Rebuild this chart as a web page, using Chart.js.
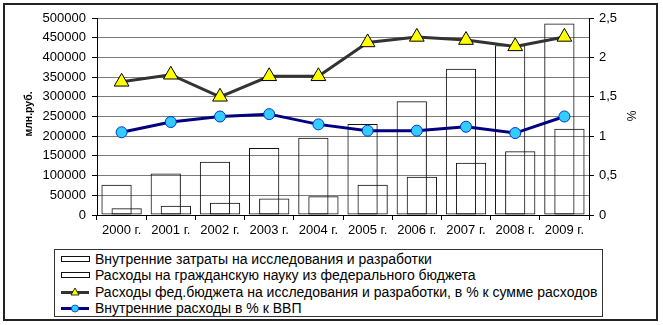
<!DOCTYPE html>
<html>
<head>
<meta charset="utf-8">
<script src="https://cdn.jsdelivr.net/npm/chart.js@4/dist/chart.umd.min.js"></script>
<style>
  body { margin: 0; background: #fff; font-family: "Liberation Sans", Arial, sans-serif; }
  #wrap { position: relative; width: 663px; height: 325px; overflow: hidden; }
  #frame { position: absolute; left: 3px; top: 3px; width: 651px; height: 314px; border: 2px solid #222; }
  #box { position: absolute; left: 0; top: 0; width: 663px; height: 250px; }
  #legend { position: absolute; left: 54px; top: 249px; width: 547px; height: 66px; border: 1px solid #333; background: #fff; }
  .item { position: absolute; left: 6px; height: 16px; line-height: 16px; font-size: 14px; color: #000; white-space: nowrap; }
  .item svg { position: absolute; left: 0; top: 0; }
  .item span { position: absolute; left: 34px; top: 0; }
  .axis-title { position: absolute; width: 80px; height: 14px; line-height: 14px; text-align: center;
                color: #000; transform: rotate(-90deg); white-space: nowrap; }
  #titleLeft { left: -12px; top: 107px; font-size: 10.5px; font-weight: bold; }
  #titleRight { left: 592px; top: 109px; font-size: 12px; }
</style>
</head>
<body>
<div id="wrap">
  <div id="frame"></div>
  <div id="box"><canvas id="chart"></canvas></div>
  <div class="axis-title" id="titleLeft">млн.руб.</div>
  <div class="axis-title" id="titleRight">%</div>
  <div id="legend"></div>
</div>
<script>
// Данные по годам
const years = ['2000 г.', '2001 г.', '2002 г.', '2003 г.', '2004 г.', '2005 г.', '2006 г.', '2007 г.', '2008 г.', '2009 г.'];
const rdSpending = [76697, 105261, 135000, 169862, 196040, 230785, 288805, 371080, 431073, 485834];
const civilScience = [17396, 23688, 31056, 41576, 47479, 76909, 97363, 132703, 162116, 219057];
const budgetShare = [1.69, 1.78, 1.5, 1.76, 1.76, 2.19, 2.26, 2.22, 2.14, 2.26];
const gdpShare = [1.05, 1.18, 1.25, 1.28, 1.15, 1.07, 1.07, 1.12, 1.04, 1.25];
const seriesNames = [
    'Внутренние затраты на исследования и разработки',
    'Расходы на гражданскую науку из федерального бюджета',
    'Расходы фед.бюджета на исследования и разработки, в % к сумме расходов',
    'Внутренние расходы в % к ВВП'
];

const tickFont = { family: '"Liberation Sans", Arial, sans-serif', size: 13 };

const ctx = document.getElementById('chart').getContext('2d');
new Chart(ctx, {
    data: {
        labels: years,
        datasets: [
            {
                type: 'line', label: seriesNames[2], data: budgetShare, yAxisID: 'y1', order: 1,
                borderColor: '#333333', borderWidth: 3,
                pointStyle: 'triangle', pointRadius: 8.5,
                pointBackgroundColor: '#ffff00', pointBorderColor: '#000', pointBorderWidth: 1
            },
            {
                type: 'line', label: seriesNames[3], data: gdpShare, yAxisID: 'y1', order: 1,
                borderColor: '#000080', borderWidth: 3,
                pointStyle: 'circle', pointRadius: 5.5,
                pointBackgroundColor: '#33ccff', pointBorderColor: '#0033cc', pointBorderWidth: 1
            },
            {
                type: 'bar', label: seriesNames[0], data: rdSpending, yAxisID: 'y', order: 2,
                backgroundColor: 'rgba(0,0,0,0)', borderColor: '#111', borderWidth: 1, borderSkipped: false,
                categoryPercentage: 0.41, barPercentage: 3
            },
            {
                type: 'bar', label: seriesNames[1], data: civilScience, yAxisID: 'y', order: 2,
                backgroundColor: 'rgba(0,0,0,0)', borderColor: '#111', borderWidth: 1, borderSkipped: false,
                categoryPercentage: 0.41, barPercentage: 3
            }
        ]
    },
    options: {
        responsive: true,
        maintainAspectRatio: false,
        animation: false,
        layout: { padding: { top: 18, left: 0, right: 0, bottom: 0 } },
        plugins: {
            legend: { display: false },
            tooltip: { enabled: false }
        },
        scales: {
            x: {
                offset: true,
                grid: { display: true, drawOnChartArea: false, tickLength: 5, color: '#000' },
                border: { color: '#000', width: 1 },
                ticks: { color: '#000', font: tickFont, padding: 3, autoSkip: false, maxRotation: 0 },
                afterFit: function(scale) { scale.height = 35; }
            },
            y: {
                position: 'left',
                min: 0, max: 500000,
                grid: { color: '#7a7a7a', tickColor: '#000', tickLength: 5 },
                border: { color: '#000', width: 1 },
                ticks: {
                    stepSize: 50000, color: '#000', font: tickFont, padding: 6,
                    callback: function(value) { return String(value); }
                },
                afterFit: function(scale) { scale.width = 97; }
            },
            y1: {
                position: 'right',
                min: 0, max: 2.5,
                grid: { drawOnChartArea: false, color: '#000', tickLength: 5 },
                border: { color: '#000', width: 1 },
                ticks: {
                    stepSize: 0.5, color: '#000', font: tickFont, padding: 5,
                    callback: function(value) { return String(value).replace('.', ','); }
                },
                afterFit: function(scale) { scale.width = 74; }
            }
        }
    }
});

// Легенда под графиком
const markers = [
    '<svg width="30" height="16"><rect x="0.5" y="5.5" width="28" height="5" fill="#fff" stroke="#111"/></svg>',
    '<svg width="30" height="16"><rect x="0.5" y="5.5" width="28" height="5" fill="#fff" stroke="#111"/></svg>',
    '<svg width="30" height="16"><line x1="0" y1="8.5" x2="28" y2="8.5" stroke="#333" stroke-width="3"/>' +
        '<polygon points="14,4 18,11 10,11" fill="#ffff00" stroke="#000" stroke-width="0.8"/></svg>',
    '<svg width="30" height="16"><line x1="0" y1="8.5" x2="28" y2="8.5" stroke="#000080" stroke-width="3"/>' +
        '<circle cx="14" cy="8.5" r="3.5" fill="#33ccff" stroke="#0033cc" stroke-width="0.8"/></svg>'
];
const itemTops = [1, 17, 34, 50];
const legend = document.getElementById('legend');
seriesNames.forEach(function(name, i) {
    const div = document.createElement('div');
    div.className = 'item';
    div.style.top = itemTops[i] + 'px';
    div.innerHTML = markers[i] + '<span></span>';
    div.querySelector('span').textContent = name;
    legend.appendChild(div);
});
</script>
</body>
</html>
